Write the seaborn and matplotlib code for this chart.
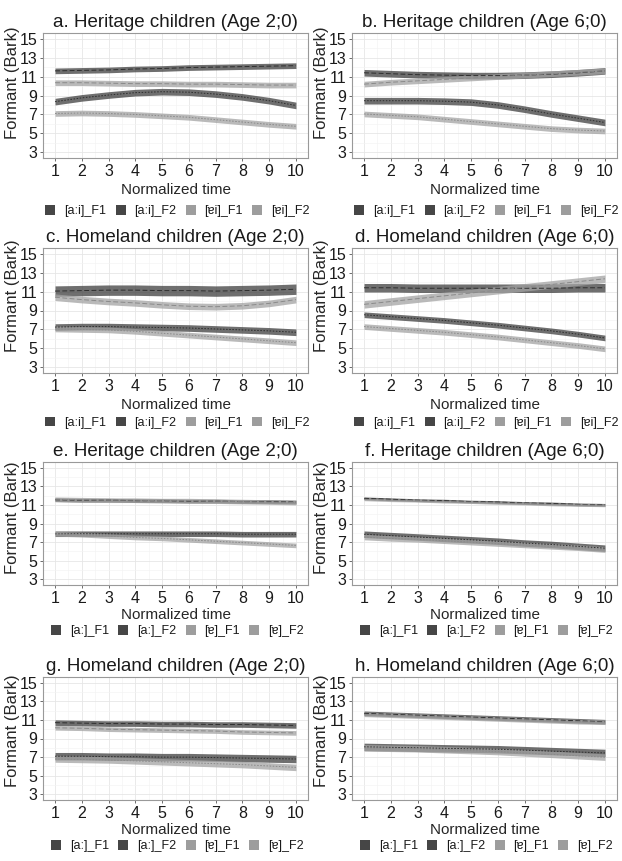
import numpy as np
import pandas as pd
import seaborn as sns
from matplotlib import pyplot as plt
from matplotlib.patches import Patch
from matplotlib.ticker import MultipleLocator

# normalized time points
time = list(range(1, 11))

titles = [
    'a. Heritage children (Age 2;0)', 'b. Heritage children (Age 6;0)',
    'c. Homeland children (Age 2;0)', 'd. Homeland children (Age 6;0)',
    'e. Heritage children (Age 2;0)', 'f. Heritage children (Age 6;0)',
    'g. Homeland children (Age 2;0)', 'h. Homeland children (Age 6;0)',
]
labels_diph = ['[aːi]_F1', '[aːi]_F2', '[ɐi]_F1', '[ɐi]_F2']
labels_mono = ['[aː]_F1', '[aː]_F2', '[ɐ]_F1', '[ɐ]_F2']

# fitted formant curves (Bark), long vowel / short vowel, F1 / F2
a_long_f1 = [8.35, 8.75, 9.05, 9.3, 9.4, 9.35, 9.15, 8.85, 8.45, 7.95]
a_long_f2 = [11.6, 11.65, 11.7, 11.8, 11.85, 11.95, 12.0, 12.05, 12.1, 12.15]
a_short_f1 = [7.1, 7.15, 7.1, 7.0, 6.85, 6.7, 6.45, 6.2, 5.95, 5.75]
a_short_f2 = [10.35, 10.35, 10.3, 10.25, 10.25, 10.2, 10.2, 10.15, 10.1, 10.1]
a_band = [0.35, 0.3, 0.3, 0.3]

b_long_f1 = [8.45, 8.45, 8.45, 8.4, 8.3, 8.0, 7.55, 7.05, 6.6, 6.15]
b_long_f2 = [11.4, 11.3, 11.2, 11.15, 11.1, 11.1, 11.15, 11.25, 11.4, 11.6]
b_short_f1 = [7.05, 6.9, 6.75, 6.5, 6.25, 6.0, 5.75, 5.5, 5.35, 5.25]
b_short_f2 = [10.2, 10.4, 10.55, 10.7, 10.85, 11.0, 11.15, 11.3, 11.45, 11.6]
b_band = [0.35, 0.35, 0.3, 0.3]

c_long_f1 = [7.25, 7.3, 7.3, 7.25, 7.2, 7.15, 7.05, 6.95, 6.85, 6.7]
c_long_f2 = [11.05, 11.1, 11.15, 11.15, 11.1, 11.1, 11.05, 11.1, 11.15, 11.25]
c_short_f1 = [7.05, 7.0, 6.95, 6.8, 6.6, 6.4, 6.2, 6.0, 5.8, 5.6]
c_short_f2 = [10.4, 10.15, 9.95, 9.8, 9.6, 9.45, 9.4, 9.5, 9.75, 10.15]
c_band = [0.35, 0.55, 0.3, 0.35]

d_long_f1 = [8.55, 8.35, 8.15, 7.95, 7.7, 7.45, 7.15, 6.85, 6.5, 6.1]
d_long_f2 = [11.4, 11.4, 11.35, 11.35, 11.35, 11.35, 11.35, 11.35, 11.4, 11.4]
d_short_f1 = [7.3, 7.1, 6.9, 6.7, 6.45, 6.2, 5.9, 5.6, 5.3, 4.95]
d_short_f2 = [9.65, 9.95, 10.25, 10.55, 10.85, 11.15, 11.45, 11.75, 12.05, 12.35]
d_band = [0.3, 0.45, 0.3, 0.4]

e_long_f1 = [7.9, 7.9, 7.9, 7.9, 7.9, 7.9, 7.9, 7.85, 7.85, 7.85]
e_long_f2 = [11.55, 11.5, 11.5, 11.45, 11.45, 11.4, 11.4, 11.35, 11.35, 11.3]
e_short_f1 = [7.9, 7.8, 7.65, 7.5, 7.4, 7.25, 7.1, 6.95, 6.8, 6.65]
e_short_f2 = [11.6, 11.55, 11.5, 11.5, 11.45, 11.45, 11.4, 11.35, 11.3, 11.25]
e_band = [0.3, 0.2, 0.25, 0.25]

f_long_f1 = [7.85, 7.7, 7.55, 7.4, 7.25, 7.1, 6.9, 6.75, 6.55, 6.35]
f_long_f2 = [11.7, 11.6, 11.5, 11.45, 11.35, 11.3, 11.2, 11.15, 11.05, 11.0]
f_short_f1 = [7.55, 7.4, 7.3, 7.15, 7.0, 6.85, 6.7, 6.55, 6.4, 6.2]
f_short_f2 = [11.6, 11.5, 11.45, 11.35, 11.3, 11.2, 11.15, 11.05, 11.0, 10.95]
f_band = [0.35, 0.15, 0.3, 0.15]

g_long_f1 = [7.1, 7.1, 7.05, 7.05, 7.0, 7.0, 6.95, 6.9, 6.85, 6.8]
g_long_f2 = [10.7, 10.65, 10.6, 10.6, 10.55, 10.55, 10.5, 10.5, 10.45, 10.4]
g_short_f1 = [6.8, 6.75, 6.7, 6.6, 6.5, 6.4, 6.3, 6.2, 6.05, 5.9]
g_short_f2 = [10.15, 10.1, 10.0, 9.95, 9.9, 9.85, 9.8, 9.7, 9.65, 9.6]
g_band = [0.4, 0.3, 0.35, 0.25]

h_long_f1 = [8.1, 8.05, 8.0, 7.95, 7.9, 7.85, 7.75, 7.65, 7.55, 7.45]
h_long_f2 = [11.7, 11.6, 11.5, 11.4, 11.3, 11.2, 11.1, 11.0, 10.9, 10.8]
h_short_f1 = [8.0, 7.95, 7.9, 7.8, 7.7, 7.6, 7.45, 7.3, 7.15, 7.0]
h_short_f2 = [11.6, 11.5, 11.4, 11.3, 11.2, 11.1, 11.0, 10.9, 10.8, 10.75]
h_band = [0.4, 0.25, 0.35, 0.25]

panels = [
    ([a_long_f1, a_long_f2, a_short_f1, a_short_f2], a_band),
    ([b_long_f1, b_long_f2, b_short_f1, b_short_f2], b_band),
    ([c_long_f1, c_long_f2, c_short_f1, c_short_f2], c_band),
    ([d_long_f1, d_long_f2, d_short_f1, d_short_f2], d_band),
    ([e_long_f1, e_long_f2, e_short_f1, e_short_f2], e_band),
    ([f_long_f1, f_long_f2, f_short_f1, f_short_f2], f_band),
    ([g_long_f1, g_long_f2, g_short_f1, g_short_f2], g_band),
    ([h_long_f1, h_long_f2, h_short_f1, h_short_f2], h_band),
]

sns.set_theme(style='white')
plt.rcParams['font.family'] = ['Liberation Sans', 'DejaVu Sans']
plt.rcParams['text.color'] = '#1a1a1a'

ribbon_colors = ['#3f3f3f', '#3f3f3f', '#a3a3a3', '#a3a3a3']
line_colors = ['#2e2e2e', '#2e2e2e', '#8a8a8a', '#8a8a8a']
key_colors = ['#464646', '#464646', '#9d9d9d', '#9d9d9d']
dash_styles = [(1.6, 1.6), (5, 2.5), (1.6, 1.6), (5, 2.5)]

W, H = 622, 861
fig = plt.figure(figsize=(W / 100, H / 100), dpi=100)

col_left = [43, 352]
col_width = 265
row_top = [33, 248, 462, 677]
row_height = [125, 125, 123, 123]
legend_y = [211, 423, 631, 846]
ylabel_y = [0.6, 0.62, 0.55, 0.56]

for i, (title, (series, band)) in enumerate(zip(titles, panels)):
    r, c = divmod(i, 2)
    left, top, w, h = col_left[c], row_top[r], col_width, row_height[r]
    ax = fig.add_axes([left / W, 1 - (top + h) / H, w / W, h / H])
    labels = labels_diph if r < 2 else labels_mono

    frames = []
    for lab, vals in zip(labels, series):
        frames.append(pd.DataFrame({'time': time, 'value': vals, 'series': lab}))
    df = pd.concat(frames, ignore_index=True)

    for lab, vals, b, col in zip(labels, series, band, ribbon_colors):
        vals = np.array(vals)
        ax.fill_between(time, vals - b, vals + b, color=col, alpha=0.75, lw=0)

    sns.lineplot(data=df, x='time', y='value', hue='series', style='series',
                 palette=dict(zip(labels, line_colors)),
                 dashes=dict(zip(labels, dash_styles)),
                 errorbar=None, lw=0.7, legend=False, ax=ax)

    ax.set_xlim(0.55, 10.45)
    ax.set_ylim(2.4, 15.6)
    ax.set_xticks(time)
    ax.set_yticks(range(3, 16, 2))
    ax.xaxis.set_minor_locator(MultipleLocator(0.5))
    ax.yaxis.set_minor_locator(MultipleLocator(1))
    ax.grid(which='major', color='#e6e6e6', lw=0.6)
    ax.grid(which='minor', color='#f3f3f3', lw=0.45)
    ax.set_axisbelow(True)
    for sp in ax.spines.values():
        sp.set_color('#999999')
        sp.set_linewidth(0.8)
    ax.tick_params(which='major', length=2.5, width=0.6, color='#555555',
                   pad=1.5, labelsize=11.5, labelcolor='#1a1a1a',
                   left=True, bottom=True)
    ax.tick_params(which='minor', length=0)

    ax.set_title(title, fontsize=13.5, pad=4.5)
    ax.set_xlabel('Normalized time', fontsize=11, labelpad=3 if r < 2 else 1.5)
    ax.set_ylabel('Formant (Bark)', fontsize=12)
    ax.yaxis.set_label_coords(-23 / w, ylabel_y[r])

    handles = [Patch(facecolor=k, edgecolor='none', label=lab)
               for k, lab in zip(key_colors, labels)]
    ax.legend(handles=handles, loc='center', ncol=4, frameon=False,
              bbox_to_anchor=((left + w / 2 + 2) / W, 1 - legend_y[r] / H),
              bbox_transform=fig.transFigure, fontsize=9,
              handlelength=0.8, handleheight=0.8, handletextpad=0.7,
              columnspacing=0.75, borderaxespad=0, borderpad=0)

fig.savefig('out.png', dpi=100)
